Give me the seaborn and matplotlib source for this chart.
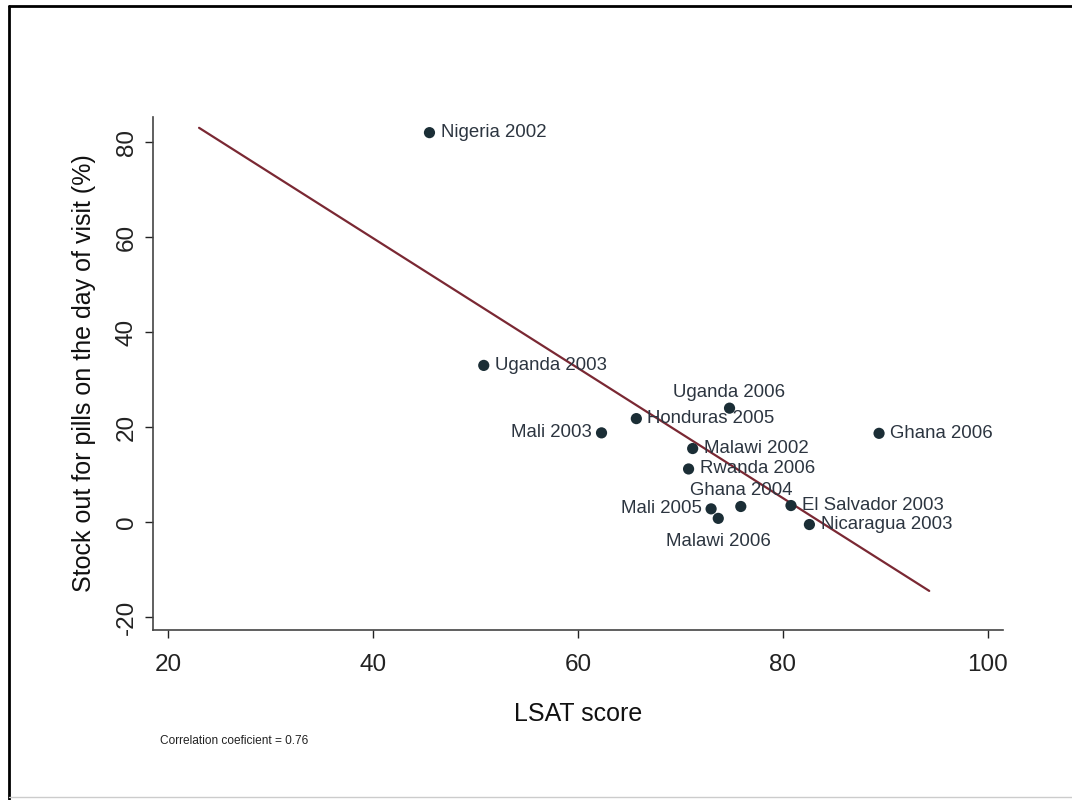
import numpy as np
import pandas as pd
import matplotlib
matplotlib.use("Agg")
import matplotlib.pyplot as plt
from matplotlib.lines import Line2D
import seaborn as sns

# Survey rounds: logistics score vs. stock-out of pills
surveys = ["Nigeria 2002", "Uganda 2003", "Mali 2003", "Honduras 2005",
           "Uganda 2006", "Ghana 2006", "Malawi 2002", "Rwanda 2006",
           "Ghana 2004", "Mali 2005", "Malawi 2006", "El Salvador 2003",
           "Nicaragua 2003"]
lsat_score = [45.5, 50.8, 62.3, 65.7, 74.8, 89.4, 71.2, 70.8,
              75.9, 73.0, 73.7, 80.8, 82.6]
stock_out = [82.0, 33.0, 18.8, 21.8, 24.0, 18.7, 15.5, 11.2,
             3.3, 2.8, 0.8, 3.5, -0.5]
# label placement around each marker (clock position)
label_pos = [3, 3, 9, 3, 12, 3, 3, 3, 12, 9, 6, 3, 3]
fit_range = [23.0, 94.3]
x_ticks = [20, 40, 60, 80, 100]
y_ticks = [-20, 0, 20, 40, 60, 80]

df = pd.DataFrame({"survey": surveys, "lsat": lsat_score,
                   "stockout": stock_out, "pos": label_pos})

sns.set_theme(style="ticks")
plt.rcParams["font.family"] = ["Liberation Sans", "DejaVu Sans"]
plt.rcParams["axes.unicode_minus"] = False

fig = plt.figure(figsize=(10.72, 8.0), dpi=100)
ax = fig.add_axes([0.1427, 0.2125, 0.7929, 0.6413])

# Least-squares fit line
slope, intercept = np.polyfit(df["lsat"], df["stockout"], 1)
fx = np.array(fit_range)
fit_df = pd.DataFrame({"lsat": fx, "stockout": intercept + slope * fx})
sns.lineplot(data=fit_df, x="lsat", y="stockout", ax=ax,
             color="#7a2833", linewidth=1.6, zorder=2)

sns.scatterplot(data=df, x="lsat", y="stockout", ax=ax, s=65,
                color="#1b2e36", edgecolor="none", zorder=3)

offsets = {3: ((8, 0), "left", "center"),
           9: ((-7, 0), "right", "center"),
           12: ((0, 11.5), "center", "center"),
           6: ((0, -17), "center", "center")}
for _, r in df.iterrows():
    off, ha, va = offsets[r["pos"]]
    ax.annotate(r["survey"], (r["lsat"], r["stockout"]), xytext=off,
                textcoords="offset points", ha=ha, va=va,
                fontsize=13.4, color="#2c3540", zorder=4)

r_coef = abs(np.corrcoef(df["lsat"], df["stockout"])[0, 1])

ax.set_xlim(18.5, 101.5)
ax.set_ylim(-22.7, 85.3)
ax.set_xticks(x_ticks)
ax.set_yticks(y_ticks)
ax.tick_params(axis="both", labelsize=17.5, colors="#222222",
               length=6, width=1.0, direction="out")
ax.tick_params(axis="x", pad=11)
ax.tick_params(axis="y", pad=5)
for lab in ax.get_yticklabels():
    lab.set_rotation(90)
    lab.set_va("center")

ax.set_xlabel("LSAT score", fontsize=18, labelpad=19, color="#111111")
ax.set_ylabel("Stock out for pills on the day of visit (%)", fontsize=18,
              labelpad=14, color="#111111")

for side in ("top", "right"):
    ax.spines[side].set_visible(False)
for side in ("left", "bottom"):
    ax.spines[side].set_color("#444444")
    ax.spines[side].set_linewidth(1.2)
ax.set_facecolor("white")

fig.text(160 / 1072, 1 - 741 / 800,
         f"Correlation coeficient = {r_coef:.2f}",
         fontsize=8.6, color="#222222", va="center", ha="left")

# Frame around the graph region
fig.add_artist(Line2D([9 / 1072, 9 / 1072], [0.0, 1 - 6 / 800],
                      transform=fig.transFigure, color="black", linewidth=2.0))
fig.add_artist(Line2D([9 / 1072, 1.0], [1 - 6 / 800, 1 - 6 / 800],
                      transform=fig.transFigure, color="black", linewidth=2.0))
fig.add_artist(Line2D([9 / 1072, 1.0], [3 / 800, 3 / 800],
                      transform=fig.transFigure, color="#cccccc", linewidth=1.0))

fig.savefig("out.png", dpi=100, facecolor="white")
